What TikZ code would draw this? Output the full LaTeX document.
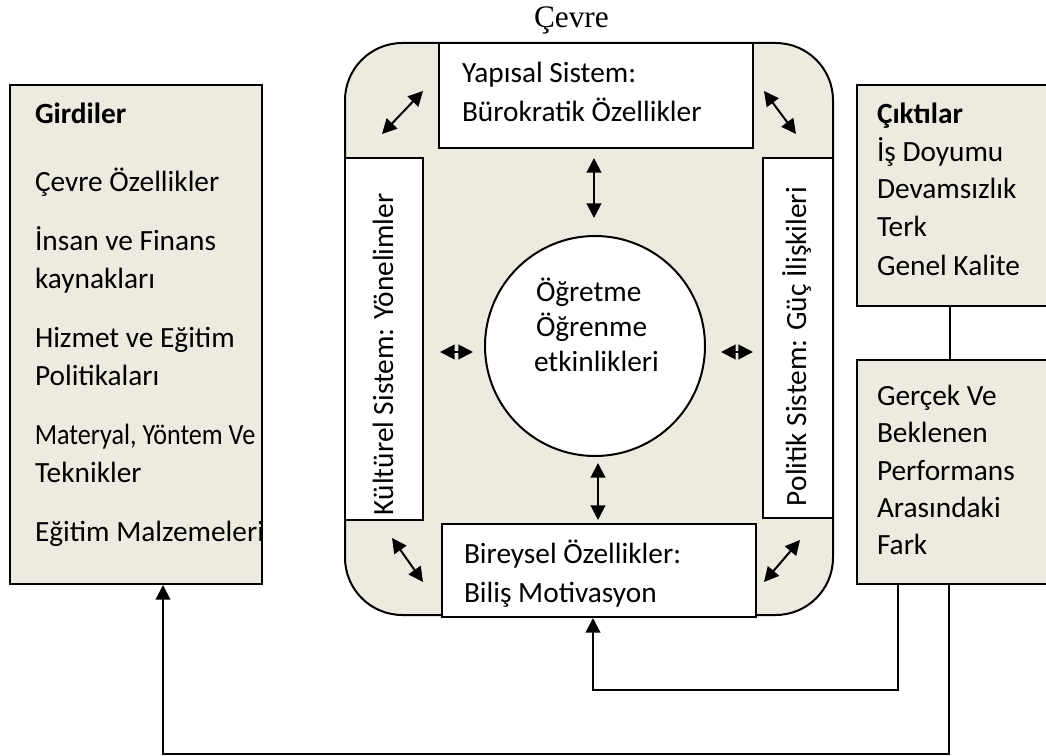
\documentclass[tikz,border=0pt]{standalone}
\usepackage{fontspec}
\setmainfont{Carlito}
\newfontfamily\timesfont{Liberation Serif}
\usetikzlibrary{arrows.meta,fit}
\definecolor{panel}{RGB}{237,235,224}
\begin{document}
\begin{tikzpicture}[x=0.75pt,y=-0.75pt,
  line width=1.5pt,
  box/.style={draw, inner sep=0pt, line width=1.5pt},
  panelbox/.style={box, fill=panel},
  whitebox/.style={box, fill=white},
  txt/.style={anchor=base west, inner sep=0pt, font=\fontsize{22}{26}\selectfont},
  vtxt/.style={txt, rotate=90},
  tip/.tip={Triangle[length=11pt,width=11pt]},
  twoway/.style={tip-tip, line width=1.5pt},
  oneway/.style={-tip, line width=1.5pt},
]
\useasboundingbox (0,0) rectangle (1046,756);
\clip (0,0) rectangle (1046,756);

% title
\node[anchor=base west, inner sep=0pt, font=\timesfont\fontsize{23.5}{28}\selectfont] (title) at (533,28) {Çevre};

% inputs
\node[panelbox, fit={(10,85) (262,584)}] (gir) {};
\node[txt, font=\fontsize{22}{26}\selectfont\bfseries] (g0) at (34,124) {Girdiler};
\node[txt] (g1) at (34,192) {Çevre Özellikler};
\node[txt] (g2) at (34,250) {İnsan ve Finans};
\node[txt] (g3) at (34,288) {kaynakları};
\node[txt] (g4) at (34,347) {Hizmet ve Eğitim};
\node[txt] (g5) at (34,385) {Politikaları};
\node[txt, xscale=0.89] (g6) at (34,444) {Materyal, Yöntem Ve};
\node[txt] (g7) at (34,482) {Teknikler};
\node[txt] (g8) at (34,541) {Eğitim Malzemeleri};

% outputs
\node[panelbox, fit={(857,85) (1060,306)}] (cik) {};
\node[txt, font=\fontsize{22}{26}\selectfont\bfseries] (c0) at (876,124) {Çıktılar};
\node[txt] (c1) at (876,162) {İş Doyumu};
\node[txt] (c2) at (876,199) {Devamsızlık};
\node[txt] (c3) at (876,237) {Terk};
\node[txt] (c4) at (876,275) {Genel Kalite};

\node[panelbox, fit={(857,360) (1060,584)}] (gap) {};
\node[txt] (p1) at (876,405) {Gerçek Ve};
\node[txt] (p2) at (876,442) {Beklenen};
\node[txt] (p3) at (876,480) {Performans};
\node[txt] (p4) at (876,517) {Arasındaki};
\node[txt] (p5) at (876,554) {Fark};

% environment
\node[panelbox, rounded corners=43pt, fit={(345,43) (833,615)}] (env) {};
\node[whitebox, fit={(439,43) (753,148)}] (yap) {};
\node[txt] (y1) at (461,83) {Yapısal Sistem:};
\node[txt] (y2) at (461,122) {Bürokratik Özellikler};
\node[whitebox, fit={(442,524) (756,617)}] (bir) {};
\node[txt] (b1) at (463,563) {Bireysel Özellikler:};
\node[txt] (b2) at (463,602) {Biliş Motivasyon};
\node[whitebox, fit={(345,158) (423,520)}] (kul) {};
\node[vtxt] (k1t) at (393,516) {Kültürel Sistem: Yönelimler};
\node[whitebox, fit={(763,158) (833,518)}] (pol) {};
\node[vtxt] (pot) at (806,507) {Politik Sistem: Güç İlişkileri};

\node[box, fill=white, circle, minimum size=165pt] (ogr) at (595,346) {};
\node[txt] (o1) at (535,301) {Öğretme};
\node[txt] (o2) at (535,336) {Öğrenme};
\node[txt] (o3) at (533,371) {etkinlikleri};

% two-way interaction arrows
\coordinate (a1) at (382,134); \coordinate (a2) at (423,91);
\coordinate (a3) at (764,91);  \coordinate (a4) at (796,134);
\coordinate (a5) at (392,538); \coordinate (a6) at (423,582);
\coordinate (a7) at (764,582); \coordinate (a8) at (800,540);
\coordinate (a9) at (594,158); \coordinate (a10) at (594,218);
\coordinate (a11) at (598,463); \coordinate (a12) at (598,520);
\coordinate (a13) at (440,352); \coordinate (a14) at (473,352);
\coordinate (a15) at (721,352); \coordinate (a16) at (753,352);
\draw[twoway] (a1) -- (a2);
\draw[twoway] (a3) -- (a4);
\draw[twoway] (a5) -- (a6);
\draw[twoway] (a7) -- (a8);
\draw[twoway] (a9) -- (a10);
\draw[twoway] (a11) -- (a12);
\draw[twoway] (a13) -- (a14);
\draw[twoway] (a15) -- (a16);

% outputs link and feedback loops
\coordinate (k5) at (950,0);
\draw (k5 |- cik.south) -- (k5 |- gap.north);
\coordinate (k1) at (898,690);
\coordinate (k2) at (593,690);
\draw[oneway] (k1 |- gap.south) -- (k1) -- (k2) -- (k2 |- bir.south);
\coordinate (k3) at (949,754);
\coordinate (k4) at (163,754);
\draw[oneway] (k3 |- gap.south) -- (k3) -- (k4) -- (k4 |- gir.south);
\end{tikzpicture}
\end{document}
